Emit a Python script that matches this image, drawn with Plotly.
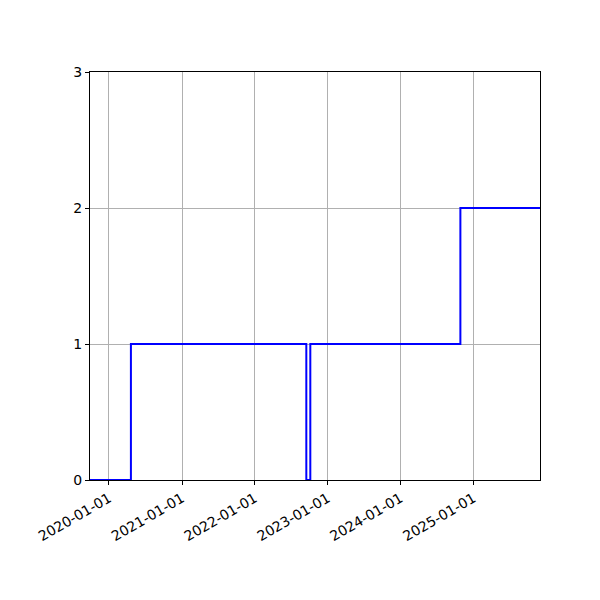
import pandas as pd
import plotly.graph_objs as go

# step series (post-style steps)
dates = ['2019-09-28', '2020-04-20', '2022-09-16', '2022-10-06', '2024-10-27', '2025-11-30']
levels = [0, 1, 0, 1, 2, 2]

x_ticks = ['2020-01-01', '2021-01-01', '2022-01-01', '2023-01-01', '2024-01-01', '2025-01-01']
y_ticks = [0, 1, 2, 3]

fig = go.Figure([
    go.Scatter(
        x=pd.to_datetime(dates),
        y=levels,
        mode='lines',
        line=dict(color='#0000ff', width=2, shape='hv'),
        showlegend=False,
    ),
])

axis_style = dict(
    showline=True, mirror=True, linecolor='black', linewidth=1,
    ticks='outside', ticklen=4, tickcolor='black', tickwidth=1,
    showgrid=True, gridcolor='#b0b0b0', gridwidth=1,
    zeroline=False,
    tickfont=dict(family='DejaVu Sans', size=14, color='black'),
)

fig.update_xaxes(
    range=[dates[0], dates[-1]],
    tickvals=pd.to_datetime(x_ticks),
    ticktext=x_ticks,
    tickangle=-30,
    **axis_style,
)
fig.update_yaxes(
    range=[0, 3],
    tickvals=y_ticks,
    **axis_style,
)
# page body adds ~8px offset, margins compensate
fig.update_layout(
    width=600, height=600,
    margin=dict(l=82, r=68, t=64, b=128),
    plot_bgcolor='white', paper_bgcolor='white',
    font=dict(family='DejaVu Sans', size=14, color='black'),
)
fig.write_html("out.html")
